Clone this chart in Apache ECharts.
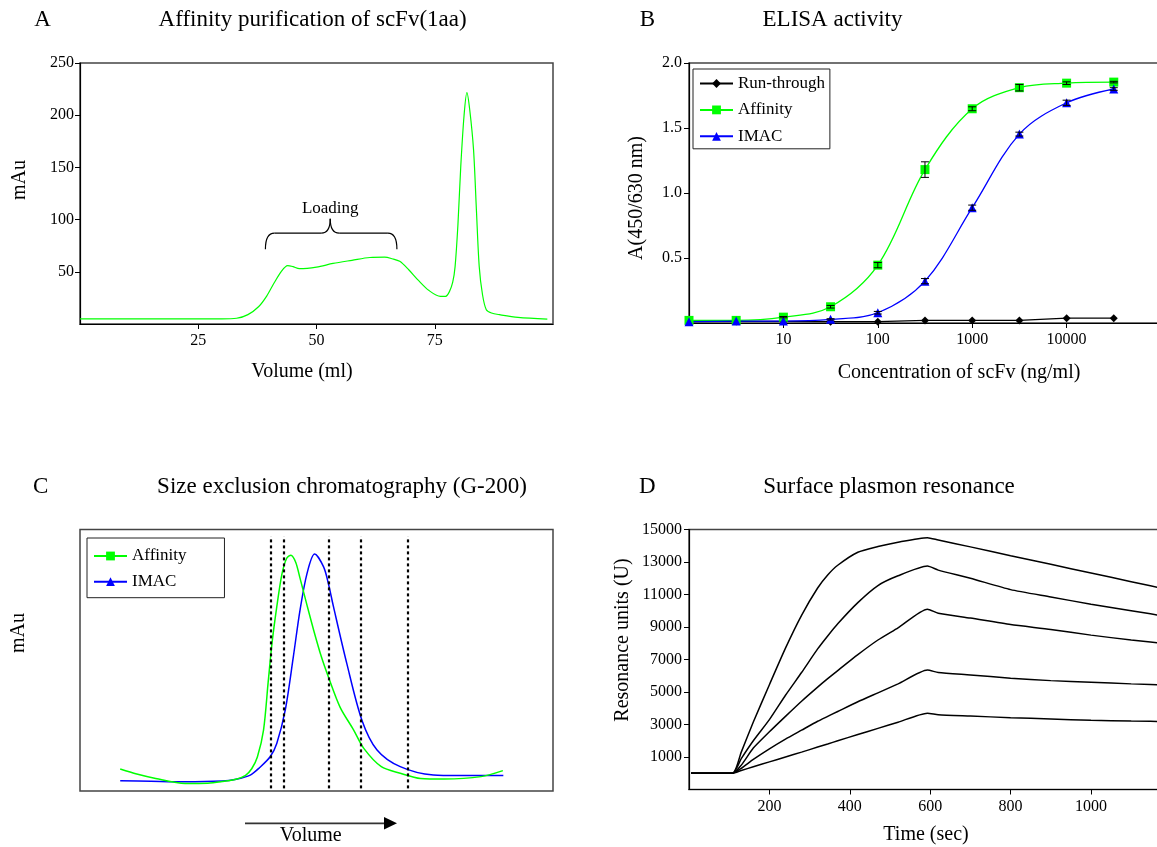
<!DOCTYPE html>
<html>
<head>
<meta charset="utf-8">
<script src="https://cdn.jsdelivr.net/npm/echarts@6/dist/echarts.min.js"></script>
<style>html,body{margin:0;padding:0;background:#fff;}#c{width:1157px;height:847px;}</style>
</head>
<body>
<div id="c"></div>
<script>
// ---------- Panel A: affinity purification ----------
const volumeA = [0, 10, 20, 30, 33.1, 35.5, 37.8, 39.5, 41, 42.5, 43.9, 45, 46.4, 50, 53.5, 57.5, 61.3, 64.4, 66, 67.6, 69.5, 71.5, 73.8, 76.2, 77.3, 78.1, 78.8, 79.3, 79.9, 80.5, 81.2, 81.8, 82.4, 83.2, 83.8, 84.4, 85.1, 85.9, 87, 88.7, 92.6, 98.8];
const absA    = [5, 5, 5, 5, 5.5, 9, 16.8, 27, 39, 50, 56, 55, 53, 54.5, 58, 61, 63.7, 64, 62.5, 60, 52, 42, 32, 26.4, 26.5, 31, 40, 55, 95, 151, 200, 221.6, 205, 167, 110, 55, 28, 13.6, 10.5, 8.9, 6.3, 4.7];
const braceA = { from: 39.2, to: 67, mid: 52.9, endY: 71.6, barY: 87, tipY: 100.8 };
const xTicksA = [25, 50, 75];

// ---------- Panel B: ELISA ----------
const concB      = [1, 3.16, 10, 31.6, 100, 316, 1000, 3160, 10000, 31600];
const runThrough = [0.01, 0.012, 0.012, 0.01, 0.01, 0.02, 0.02, 0.02, 0.037, 0.037];
const affinityB  = [0.02, 0.02, 0.045, 0.125, 0.445, 1.18, 1.648, 1.81, 1.845, 1.853];
const imacB      = [0.01, 0.015, 0.015, 0.028, 0.079, 0.322, 0.887, 1.453, 1.694, 1.80];
const affinityErr = [0, 0, 0.005, 0.01, 0.02, 0.06, 0.015, 0.025, 0.01, 0.006];
const imacErr     = [0, 0, 0, 0.005, 0.01, 0.02, 0.02, 0.015, 0.02, 0.01];

// ---------- Panel C: size exclusion ----------
const volC_aff = [8.5, 12, 16, 22.2, 27, 30, 33, 35, 36.3, 37.5, 38.8, 39.8, 40.6, 41.6, 42.7, 43.7, 44.6, 45.6, 46.5, 48, 49.4, 51, 52.5, 55, 57.8, 60, 63.7, 67.7, 72, 77, 84.8, 89.4];
const absC_aff = [8.4, 6.5, 4.8, 2.9, 3.0, 3.6, 4.5, 6, 8.5, 13, 23.3, 42, 56.6, 70.4, 83, 89, 90.2, 87.5, 81.5, 71, 61.5, 51.5, 43.7, 32, 23.5, 16.3, 9.3, 6.8, 4.8, 4.6, 5.5, 7.8];
const volC_imac = [8.5, 15, 22, 30, 33, 36, 38, 40.2, 41.6, 43.4, 45.1, 46.5, 48, 49.6, 51.5, 52.5, 53.6, 56.4, 59.6, 62.8, 67.7, 74.7, 80, 89.5];
const absC_imac = [3.9, 3.7, 3.5, 3.8, 4.5, 6.1, 9, 13.1, 18.2, 31, 51.3, 69, 83.2, 90.6, 85.7, 79.4, 70.4, 48.8, 27.1, 15.7, 9.3, 6.1, 5.9, 5.9];
const fractionMarks = [40.4, 43.15, 52.5, 59.45, 69.2];

// ---------- Panel D: SPR ----------
const timeD = [5, 108, 130, 160, 200, 240, 280, 320, 345, 370, 420, 470, 520, 593, 620, 700, 800, 900, 1000, 1100, 1200];
const spr1 = [0, 0, 1300, 3150, 5450, 7700, 9720, 11400, 12200, 12800, 13600, 13950, 14220, 14500, 14350, 13930, 13390, 12860, 12320, 11790, 11250];
const spr2 = [0, 0, 900, 2000, 3300, 4800, 6200, 7650, 8450, 9200, 10500, 11550, 12150, 12750, 12500, 12000, 11300, 10850, 10400, 10000, 9600];
const spr3 = [0, 0, 500, 1550, 2550, 3500, 4430, 5300, 5820, 6320, 7300, 8200, 8950, 10100, 9850, 9550, 9150, 8850, 8500, 8200, 7950];
const spr4 = [0, 0, 300, 850, 1500, 2100, 2650, 3200, 3500, 3800, 4400, 4950, 5500, 6350, 6200, 6050, 5850, 5700, 5600, 5500, 5420];
const spr5 = [0, 0, 170, 400, 700, 1000, 1300, 1610, 1800, 2000, 2380, 2760, 3140, 3700, 3600, 3520, 3420, 3340, 3260, 3210, 3180];

const FONT = '"Liberation Serif", "Times New Roman", serif';
const GREEN = '#00ff00', BLUE = '#0000ff';
const zip = (xs, ys) => xs.map((x, i) => [x, ys[i]]);

const chart = echarts.init(document.getElementById('c'), null, {renderer: 'canvas'});

const axisBase = {
  axisLine: {show: true, onZero: false, lineStyle: {color: '#000', width: 1.2}},
  axisTick: {show: true, length: 5, lineStyle: {color: '#000'}},
  splitLine: {show: false},
  axisLabel: {color: '#000', fontFamily: FONT, fontSize: 16}
};
const gridBorder = {show: true, borderColor: '#444', borderWidth: 1.5, backgroundColor: 'transparent',
  containLabel: false, outerBoundsMode: 'none'};

function errRender(params, api) {
  const x = api.value(0), lo = api.value(1), hi = api.value(2);
  if (hi - lo <= 0) return null;
  const p1 = api.coord([x, lo]), p2 = api.coord([x, hi]);
  const w = 4;
  const st = {stroke: '#000', lineWidth: 1};
  return {type: 'group', children: [
    {type: 'line', shape: {x1: p1[0], y1: p1[1], x2: p2[0], y2: p2[1]}, style: st},
    {type: 'line', shape: {x1: p1[0] - w, y1: p1[1], x2: p1[0] + w, y2: p1[1]}, style: st},
    {type: 'line', shape: {x1: p2[0] - w, y1: p2[1], x2: p2[0] + w, y2: p2[1]}, style: st}
  ]};
}

const legendBase = {
  orient: 'vertical',
  itemWidth: 33,
  itemHeight: 11,
  borderColor: '#222',
  borderWidth: 1,
  borderRadius: 0,
  backgroundColor: '#fff',
  textStyle: {color: '#000', fontFamily: FONT, fontSize: 17, lineHeight: 17},
  selectedMode: false
};

function txt(x, y, text, size, rot) {
  return {type: 'text', x: x, y: y, rotation: rot || 0, silent: true,
    style: {text: text, font: size + 'px ' + FONT, fill: '#000', textAlign: 'center', textVerticalAlign: 'middle'}};
}

const option = {
  animation: false,
  grid: [
    Object.assign({left: 80, top: 63, width: 473, height: 261}, gridBorder),
    Object.assign({left: 689, top: 63, width: 472, height: 260}, gridBorder),
    Object.assign({left: 80, top: 529.5, width: 473, height: 261.5}, gridBorder),
    Object.assign({left: 689, top: 529.5, width: 482.4, height: 260}, gridBorder)
  ],
  xAxis: [
    Object.assign({}, axisBase, {gridIndex: 0, type: 'value', min: 0, max: 100, interval: 25,
      axisLabel: Object.assign({}, axisBase.axisLabel, {margin: 9, showMinLabel: false, showMaxLabel: false,
        formatter: v => xTicksA.indexOf(v) >= 0 ? String(v) : ''})}),
    Object.assign({}, axisBase, {gridIndex: 1, type: 'log', logBase: 10, min: 1, max: 100000,
      axisLabel: Object.assign({}, axisBase.axisLabel, {margin: 9, showMinLabel: false, showMaxLabel: false,
        formatter: v => String(Math.round(v))})}),
    {gridIndex: 2, type: 'value', min: 0, max: 100, show: false},
    Object.assign({}, axisBase, {gridIndex: 3, type: 'value', min: 0, max: 1200, interval: 200,
      axisLabel: Object.assign({}, axisBase.axisLabel, {margin: 9, showMinLabel: false, showMaxLabel: false,
        formatter: v => String(v)})})
  ],
  yAxis: [
    Object.assign({}, axisBase, {gridIndex: 0, type: 'value', min: 0, max: 250, interval: 50,
      axisLabel: Object.assign({}, axisBase.axisLabel, {margin: 6, showMinLabel: false})}),
    Object.assign({}, axisBase, {gridIndex: 1, type: 'value', min: 0, max: 2, interval: 0.5,
      axisLabel: Object.assign({}, axisBase.axisLabel, {margin: 7, showMinLabel: false, formatter: v => v.toFixed(1)})}),
    {gridIndex: 2, type: 'value', min: 0, max: 100, show: false},
    Object.assign({}, axisBase, {gridIndex: 3, type: 'value', min: -1000, max: 15000, interval: 2000,
      axisLabel: Object.assign({}, axisBase.axisLabel, {margin: 7, showMinLabel: false, formatter: v => String(v)})})
  ],
  legend: [
    Object.assign({}, legendBase, {left: 693, top: 69, itemGap: 9.4, padding: [6, 5, 4, 6],
      data: ['Run-through', 'Affinity', 'IMAC']}),
    Object.assign({}, legendBase, {left: 87, top: 538, itemGap: 8.7, padding: [9.5, 38, 7.5, 6],
      data: ['Affinity', 'IMAC']})
  ],
  series: [
    {name: 'A', type: 'line', xAxisIndex: 0, yAxisIndex: 0, data: zip(volumeA, absA), smooth: 0.3,
      showSymbol: false, lineStyle: {color: GREEN, width: 1.2}, itemStyle: {color: GREEN}},
    // B
    {name: 'Run-through', type: 'line', xAxisIndex: 1, yAxisIndex: 1, data: zip(concB, runThrough),
      symbol: 'diamond', symbolSize: 8, lineStyle: {color: '#000', width: 1.2}, itemStyle: {color: '#000'}, z: 3},
    {name: 'Affinity', type: 'line', xAxisIndex: 1, yAxisIndex: 1, data: zip(concB, affinityB), smooth: 0.35,
      symbol: 'rect', symbolSize: 9, lineStyle: {color: GREEN, width: 1.3}, itemStyle: {color: GREEN}, z: 3},
    {name: 'IMAC', type: 'line', xAxisIndex: 1, yAxisIndex: 1, data: zip(concB, imacB), smooth: 0.35,
      symbol: 'triangle', symbolSize: 9, lineStyle: {color: BLUE, width: 1.3}, itemStyle: {color: BLUE}, z: 3},
    {name: 'errAff', type: 'custom', xAxisIndex: 1, yAxisIndex: 1, renderItem: errRender, z: 4,
      data: concB.map((c, i) => [c, affinityB[i] - affinityErr[i], affinityB[i] + affinityErr[i]])},
    {name: 'errImac', type: 'custom', xAxisIndex: 1, yAxisIndex: 1, renderItem: errRender, z: 4,
      data: concB.map((c, i) => [c, imacB[i] - imacErr[i], imacB[i] + imacErr[i]])},
    // C
    {name: 'Affinity', type: 'line', xAxisIndex: 2, yAxisIndex: 2, data: zip(volC_aff, absC_aff), smooth: 0.3,
      showSymbol: false, symbol: 'rect', lineStyle: {color: GREEN, width: 1.5}, itemStyle: {color: GREEN}, z: 3,
      markLine: {silent: true, symbol: 'none', label: {show: false},
        lineStyle: {color: '#000', width: 2.2, type: [3, 3]},
        data: fractionMarks.map(m => [{coord: [m, 1]}, {coord: [m, 97.4]}])}},
    {name: 'IMAC', type: 'line', xAxisIndex: 2, yAxisIndex: 2, data: zip(volC_imac, absC_imac), smooth: 0.3,
      showSymbol: false, symbol: 'triangle', lineStyle: {color: BLUE, width: 1.5}, itemStyle: {color: BLUE}, z: 2},
    // D
    ...[spr1, spr2, spr3, spr4, spr5].map((s, i) => ({name: 'spr' + (i + 1), type: 'line', xAxisIndex: 3, yAxisIndex: 3,
      data: zip(timeD, s), showSymbol: false, smooth: 0.2, lineStyle: {color: '#000', width: 1.5}, itemStyle: {color: '#000'}}))
  ],
  graphic: [
    txt(42.5, 20, 'A', 23), txt(312.6, 20, 'Affinity purification of scFv(1aa)', 23),
    txt(647.4, 20, 'B', 23), txt(832.5, 20, 'ELISA activity', 23),
    txt(40.7, 486.7, 'C', 23), txt(342, 486.7, 'Size exclusion chromatography (G-200)', 23),
    txt(647.4, 486.7, 'D', 23), txt(889, 486.7, 'Surface plasmon resonance', 23),
    txt(20, 180, 'mAu', 20, Math.PI / 2), txt(302, 372, 'Volume (ml)', 20),
    txt(637, 198, 'A(450/630 nm)', 20, Math.PI / 2), txt(959, 373, 'Concentration of scFv (ng/ml)', 20),
    txt(18.5, 633, 'mAu', 20, Math.PI / 2),
    txt(623, 640, 'Resonance units (U)', 20, Math.PI / 2), txt(926, 835, 'Time (sec)', 20),
    txt(310.8, 836, 'Volume', 20),
    {type: 'line', silent: true, shape: {x1: 245, y1: 823.3, x2: 388, y2: 823.3}, style: {stroke: '#333', lineWidth: 1.8}},
    {type: 'polygon', silent: true, shape: {points: [[384, 817], [397, 823.3], [384, 829.6]]}, style: {fill: '#000'}}
  ]
};
chart.setOption(option);

// brace annotation placed through the axis scale of panel A
const P = (x, y) => chart.convertToPixel({xAxisIndex: 0, yAxisIndex: 0}, [x, y]);
const b0 = P(braceA.from, braceA.endY), b1 = P(braceA.to, braceA.endY);
const hy = P(braceA.mid, braceA.barY)[1];
const tip = P(braceA.mid, braceA.tipY);
const r = 9;
const bst = {stroke: '#000', lineWidth: 1.2, fill: null};
const brace = [
  {type: 'bezierCurve', silent: true, shape: {x1: b0[0], y1: b0[1], cpx1: b0[0], cpy1: hy, x2: b0[0] + r, y2: hy}, style: bst},
  {type: 'line', silent: true, shape: {x1: b0[0] + r, y1: hy, x2: tip[0] - r, y2: hy}, style: bst},
  {type: 'bezierCurve', silent: true, shape: {x1: tip[0] - r, y1: hy, cpx1: tip[0], cpy1: hy, x2: tip[0], y2: tip[1]}, style: bst},
  {type: 'bezierCurve', silent: true, shape: {x1: tip[0], y1: tip[1], cpx1: tip[0], cpy1: hy, x2: tip[0] + r, y2: hy}, style: bst},
  {type: 'line', silent: true, shape: {x1: tip[0] + r, y1: hy, x2: b1[0] - r, y2: hy}, style: bst},
  {type: 'bezierCurve', silent: true, shape: {x1: b1[0] - r, y1: hy, cpx1: b1[0], cpy1: hy, x2: b1[0], y2: b1[1]}, style: bst},
  txt(tip[0], tip[1] - 10, 'Loading', 17)
];
chart.setOption({graphic: option.graphic.concat(brace)});
</script>
</body>
</html>
